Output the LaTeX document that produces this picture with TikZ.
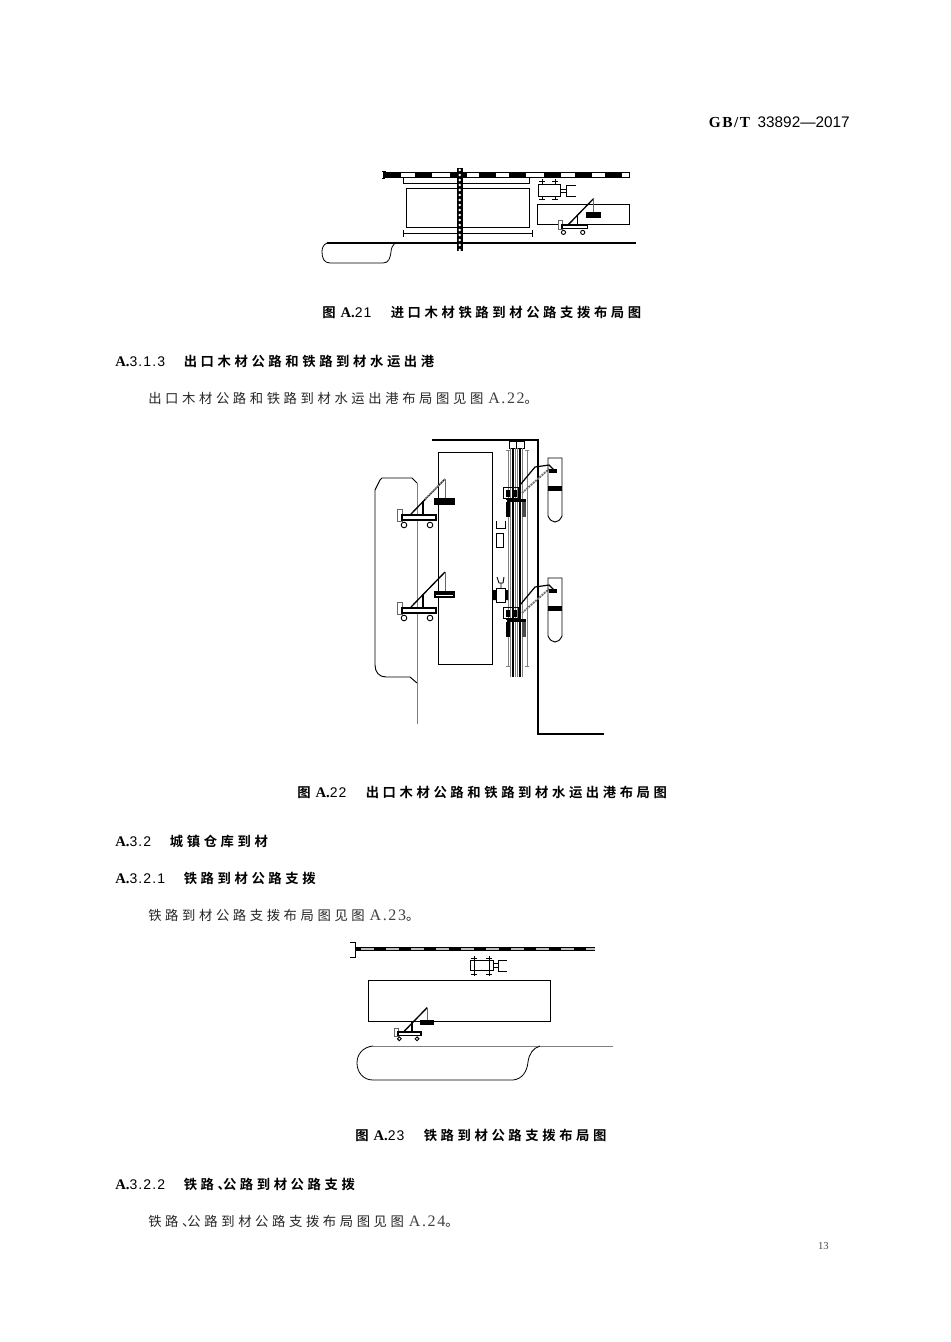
\documentclass[tikz,border=0pt]{standalone}
\usepackage{fontspec}
\setmainfont{Liberation Serif}
\setsansfont{Liberation Sans}
\newfontfamily\cjkbody{Noto Sans CJK SC}[LetterSpace=27]
\newfontfamily\cjkhead{Noto Sans CJK SC Bold}[LetterSpace=27]
\newfontfamily\latspaced{Liberation Sans}[LetterSpace=8]
\newfontfamily\latserif{Liberation Serif}[LetterSpace=10]
\usetikzlibrary{positioning}
\newcommand{\latbold}[1]{{\fontsize{11pt}{12pt}\selectfont\bfseries\rmfamily #1}}
\newcommand{\latnum}[1]{{\fontsize{10.5pt}{12pt}\selectfont\latspaced #1}}
\newcommand{\latbody}[1]{{\fontsize{12pt}{12pt}\selectfont\latserif\color{black!75} #1}}
\tikzset{
  head/.style={anchor=west,inner sep=0pt,font=\fontsize{10pt}{12pt}\cjkhead},
  body/.style={anchor=west,inner sep=0pt,font=\fontsize{10pt}{12pt}\cjkbody,text=black!85},
  caption/.style={anchor=west,inner sep=0pt,font=\fontsize{10pt}{12pt}\cjkhead},
  thinline/.style={line width=0.6pt},
  greyline/.style={line width=0.7pt,black!50},
  wall/.style={line width=0.9pt},
  % quay crane, drawn with the bar's left end at the origin
  pics/crane/.style={code={
    \draw[line width=0.6pt,black!60,fill=white] (-5,-6) rectangle (0,6);
    \draw[line width=1pt,fill=white] (0,0) rectangle (34,5);
    \draw[line width=0.7pt] (2,10) circle (2.8);
    \draw[line width=0.7pt] (28,10) circle (2.8);
    \draw[line width=1pt] (9,-1) -- (43,-36);
    \draw[line width=1.3pt] (21,-14) -- (21,0);
    \draw[line width=0.6pt,black!60] (43,-36) -- (43,-16);
    \fill (32,-17) rectangle (53,-10);
  }},
  % gantry on the rails with a slewing jib
  pics/gantry/.style={code={
    \draw[line width=0.7pt] (503,487) rectangle (518,498);
    \fill (506,490) rectangle (510,497);
    \fill (513,490) rectangle (517,497);
    \draw[line width=1.2pt] (507,501) -- (526,501);
    \draw[line width=0.7pt] (506,499) -- (526,499);
    \fill (506,502) rectangle (510,517);
    \fill[black!70] (522,502) rectangle (526,517);
    \draw[line width=0.9pt] (520,485) -- (535,467) -- (549,465) -- (555,471);
    \draw[line width=1.4pt,black!55,dash pattern=on 1.5pt off 0.7pt] (522,493) -- (549,469);
    \fill (549,469) rectangle (557,473);
  }},
  pics/ship/.style={code={
    \draw[line width=0.7pt] (548,516) -- (548,458) -- (562,458) -- (562,516)
      .. controls (560,520) and (558,522) .. (555,522)
      .. controls (552,522) and (550,520) .. (548,516);
    \fill (548,486) rectangle (562,491);
  }},
}
\begin{document}
\begin{tikzpicture}[x=0.75pt,y=-0.75pt]
  \useasboundingbox (0,0) rectangle (950,1342);
  \fill[white] (0,0) rectangle (950,1342);
  % Running head and page number
  \node[anchor=east,inner sep=0pt,font=\fontsize{11.5pt}{13pt}\selectfont] (runhead) at (850,122) {{\addfontfeature{LetterSpace=10}\textbf{GB/T}}\hspace{4.5pt}{\sffamily 33892—2017}};
  \node[anchor=east,inner sep=0pt,font=\fontsize{8pt}{10pt}\selectfont,black!70] (pageno) at (829,1246) {13};
  % Figure A.21
  \draw[line width=0.6pt] (385,171) -- (382,171) (385,178) -- (382,178) (385,171) -- (385,178);
  \draw[line width=0.6pt,fill=white] (383,172) rectangle (629,177);
  \foreach \x in {384,415,450,479,509,544,575,605}
    \fill (\x,172) rectangle +(17,5);
  \draw[thinline] (403,178) -- (403,184) (403,183) -- (529,183) (529,178) -- (529,184);
  \draw[thinline] (403,230) -- (403,237) (403,233) -- (532,233) (532,230) -- (532,237);
  \draw[line width=0.65pt] (406,188) rectangle (529,227);
  \draw[line width=0.65pt] (538,184) rectangle (560,196);
  \draw[thinline] (542,179) -- (542,184) (539,181) -- (545,181) (555,179) -- (555,184) (552,181) -- (558,181);
  \draw[thinline] (542,196) -- (542,200) (539,199) -- (545,199) (555,196) -- (555,200) (552,199) -- (558,199);
  \draw[thinline] (560,189) -- (566,189) (560,192) -- (566,192) (566,185) -- (566,196) (566,185) -- (576,185) (566,196) -- (576,196);
  \draw[line width=0.65pt] (537,204) rectangle (629,224);
  \pic[scale=0.74] at (562,225) {crane};
  \draw[line width=0.9pt] (327,243) -- (636,243);
  \draw[line width=0.6pt] (327,243) .. controls (323,245) and (322,248) .. (322,252)
    .. controls (322,258) and (324,263) .. (330,263) -- (383,263)
    .. controls (389,263) and (390,258) .. (391,252) .. controls (391,248) and (393,245) .. (395,243);
  \fill (457,168) rectangle (462.5,251);
  \foreach \y in {170,175,...,250}
    \fill[white] (459.7,\y) circle (1.4);
  % Captions and paragraphs
  \node[caption] (capone) at (322,312.5) {图\hspace{3.7pt}\latbold{A.}\latnum{21}\hspace{14.5pt}进口木材铁路到材公路支拨布局图};
  \node[head] (secone) at (115,361.5) {\latbold{A.}\latnum{3.1.3}\hspace{14pt}出口木材公路和铁路到材水运出港};
  \node[body] (parone) at (148,398.5) {出口木材公路和铁路到材水运出港布局图见图\hspace{3.7pt}\latbody{A.22}。};
  % Figure A.22
  \draw[wall] (432,440) -- (538,440) -- (538,734) -- (604,734);
  \draw[line width=0.65pt] (438,452) rectangle (492,664);
  \draw[line width=0.7pt] (375,665) -- (375,490) -- (380,480) -- (382,478) -- (412,478) -- (417,483);
  \draw[line width=0.7pt] (375,665) .. controls (375,672) and (379,677) .. (386,677) -- (410,677) -- (417,683);
  \draw[greyline] (417,483) -- (417,724);
  \draw[line width=0.7pt] (509,441) rectangle (524,448) (516.5,441) -- (516.5,448);
  \foreach \x in {508,527}
    \draw[line width=0.7pt,black!50] (\x,450) -- (\x,666) (\x-2,450) -- (\x+2,450) (\x-2,666) -- (\x+2,666);
  \foreach \x in {510.5,515.6,517.6,522.6}
    \draw[line width=0.8pt,black!50] (\x,448) -- (\x,677);
  \foreach \x in {513,520}
    \draw[line width=2.1pt] (\x,448) -- (\x,677);
  \pic at (402,515) {crane};
  \draw[line width=1.3pt,black!45,dash pattern=on 1.5pt off 0.7pt] (425,499) -- (445,479);
  \pic at (402,608) {crane};
  \draw[white,line width=0.7pt] (436,595) -- (453,595);
  \pic at (0,0) {gantry};
  \pic at (0,120) {gantry};
  \pic at (0,0) {ship};
  \pic at (0,120) {ship};
  \draw[line width=0.7pt] (496,521) -- (496,528) -- (505,528) -- (505,521);
  \draw[line width=0.7pt] (496,533) rectangle (503,547);
  \draw[line width=0.7pt] (497,577) -- (499,583) -- (503,583) -- (504,577) (501,583) -- (501,588);
  \draw[line width=0.7pt] (496,588) rectangle (505,602);
  \fill (493,590) rectangle (496,600) (505,590) rectangle (508,600);
  \node[caption] (captwo) at (297,792.5) {图\hspace{3.7pt}\latbold{A.}\latnum{22}\hspace{14.5pt}出口木材公路和铁路到材水运出港布局图};
  \node[head] (sectwo) at (115,841.5) {\latbold{A.}\latnum{3.2}\hspace{14pt}城镇仓库到材};
  \node[head] (secthree) at (115,878.5) {\latbold{A.}\latnum{3.2.1}\hspace{14pt}铁路到材公路支拨};
  \node[body] (partwo) at (148,915.5) {铁路到材公路支拨布局图见图\hspace{3.7pt}\latbody{A.23}。};
  % Figure A.23
  \draw[line width=0.6pt] (350,942) -- (355,942) -- (355,957) -- (350,957);
  \fill (355,947.2) rectangle (595,950.8);
  \foreach \x in {361,386,...,561}
    \fill[black!25] (\x,948.2) rectangle +(12.5,1.6);
  \fill[black!25] (586,948.2) rectangle (595,949.8);
  \draw[line width=0.6pt] (470,960) rectangle (493,970);
  \draw[thinline] (474,956) -- (474,976) (471,958) -- (477,958) (471,974) -- (477,974);
  \draw[thinline] (489,956) -- (489,976) (486,958) -- (492,958) (486,974) -- (492,974);
  \draw[thinline] (493,963) -- (498,963) (493,967) -- (498,967);
  \draw[thinline] (498,960) -- (498,971) (498,960) -- (507,960) (498,971) -- (507,971);
  \draw[line width=0.65pt] (368,980) rectangle (550,1021);
  \pic[scale=0.68] at (398,1032) {crane};
  \draw[greyline] (373,1046) -- (613,1046);
  \draw[line width=0.6pt] (373,1046) .. controls (363,1047) and (357,1054) .. (357,1063)
    .. controls (357,1072) and (363,1080) .. (373,1080) -- (513,1080)
    .. controls (522,1079) and (527,1072) .. (528,1062) .. controls (529,1054) and (533,1048) .. (540,1046);
  \node[caption] (capthree) at (355,1135.5) {图\hspace{3.7pt}\latbold{A.}\latnum{23}\hspace{14.5pt}铁路到材公路支拨布局图};
  \node[head] (secfour) at (115,1184.5) {\latbold{A.}\latnum{3.2.2}\hspace{14pt}铁路、\hspace{-6pt}公路到材公路支拨};
  \node[body] (parthree) at (148,1221.5) {铁路、\hspace{-6pt}公路到材公路支拨布局图见图\hspace{3.7pt}\latbody{A.24}。};
\end{tikzpicture}
\end{document}
